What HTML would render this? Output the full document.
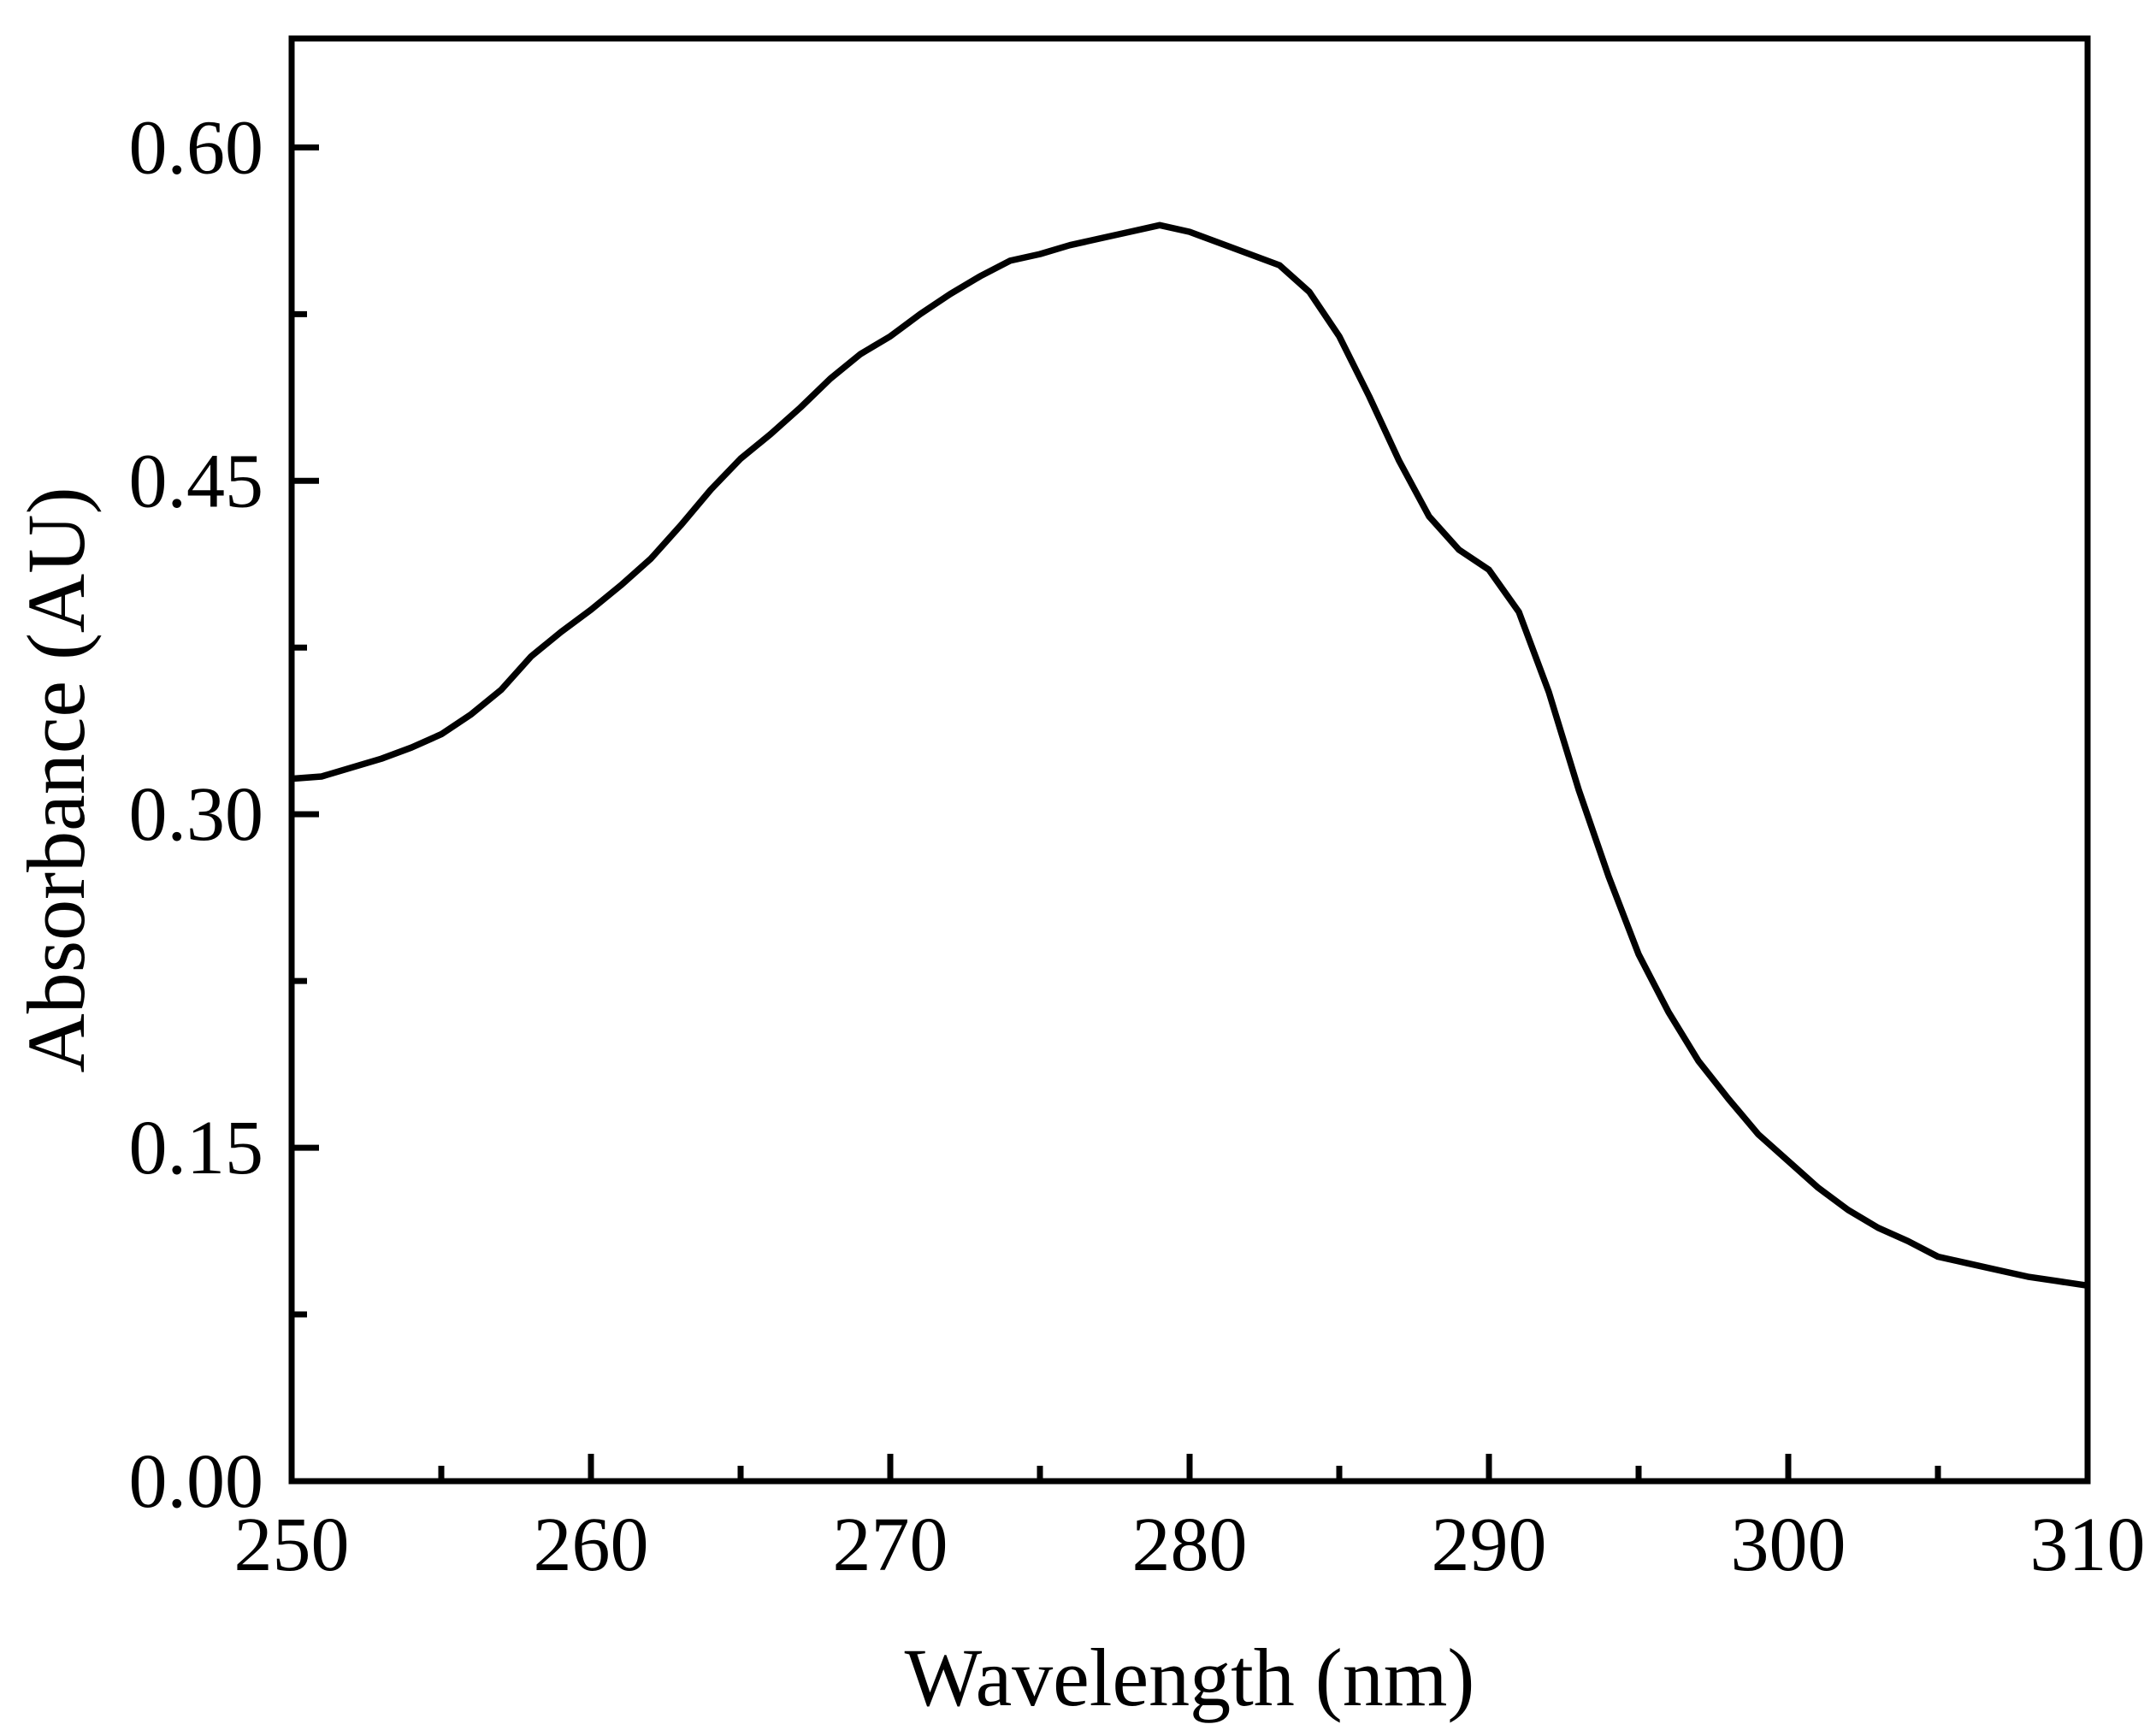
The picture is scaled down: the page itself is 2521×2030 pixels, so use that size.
<!DOCTYPE html>
<html><head><meta charset="utf-8"><style>
html,body{margin:0;padding:0;background:#fff;}
svg{display:block;}
text{font-family:"Liberation Serif",serif;fill:#000;}
</style></head><body>
<svg id="chart" width="2521" height="2030" viewBox="0 0 2521 2030" xmlns="http://www.w3.org/2000/svg">
<g id="ticks"></g>
<g id="labels"></g>
<path id="curve" fill="none" stroke="#000" stroke-width="7.5" stroke-linejoin="round"/>
<rect x="341" y="45" width="2100" height="1687" fill="none" stroke="#000" stroke-width="7"/>
<text x="1391" y="1994" font-size="96" text-anchor="middle">Wavelength (nm)</text>
<text x="0" y="0" font-size="96" text-anchor="middle" transform="translate(98,912) rotate(-90)">Absorbance (AU)</text>
</svg>
<script>
const wavelengths=[250,251,253,254,255,256,257,258,259,260,261,262,263,264,265,266,267,268,269,270,271,272,273,274,275,276,277,278,279,280,281,282,283,284,285,286,287,288,289,290,291,292,293,294,295,296,297,298,299,300,301,302,303,304,305,306,307,308,309,310];
const absorbance=[0.316,0.317,0.325,0.330,0.336,0.345,0.356,0.371,0.382,0.392,0.403,0.415,0.430,0.446,0.460,0.471,0.483,0.496,0.507,0.515,0.525,0.534,0.542,0.549,0.552,0.556,0.559,0.562,0.565,0.562,0.557,0.552,0.547,0.535,0.515,0.488,0.459,0.434,0.419,0.410,0.391,0.355,0.311,0.272,0.237,0.211,0.189,0.172,0.156,0.144,0.132,0.122,0.114,0.108,0.101,0.098,0.095,0.092,0.090,0.088];
const xTickLabels=["250","260","270","280","290","300","310"];
const yTickLabels=["0.00","0.15","0.30","0.45","0.60"];
const X0=341,X1=2441,Y0=1732,Y1=45,XMIN=250,XMAX=310,YMIN=0,YMAX=0.649;
function sx(v){return X0+(v-XMIN)/(XMAX-XMIN)*(X1-X0);}
function sy(v){return Y0-(v-YMIN)/(YMAX-YMIN)*(Y0-Y1);}
const NS="http://www.w3.org/2000/svg";
const ticks=document.getElementById('ticks'),labels=document.getElementById('labels');
function line(x1,y1,x2,y2,name){const l=document.createElementNS(NS,'line');
l.setAttribute('x1',x1);l.setAttribute('y1',y1);l.setAttribute('x2',x2);l.setAttribute('y2',y2);
l.setAttribute('stroke','#000');l.setAttribute('stroke-width','7');


ticks.appendChild(l);}
function txt(x,y,s,anchor,name){const t=document.createElementNS(NS,'text');
t.setAttribute('x',x);t.setAttribute('y',y);t.setAttribute('font-size','90');t.setAttribute('text-anchor',anchor);t.textContent=s;


labels.appendChild(t);}
xTickLabels.forEach(s=>{const v=parseFloat(s);const x=sx(v);line(x,Y0,x,Y0-32,'x-major-tick');txt(x,1836,s,'middle','x-tick-label');});
for(let v=255;v<310;v+=10){line(sx(v),Y0,sx(v),Y0-18,'x-minor-tick');}
yTickLabels.forEach(s=>{const v=parseFloat(s);const y=sy(v);line(X0,y,X0+32,y,'y-major-tick');txt(308,y+30,s,'end','y-tick-label');});
for(let v=0.075;v<0.649;v+=0.15){line(X0,sy(v),X0+18,sy(v),'y-minor-tick');}
document.getElementById('curve').setAttribute('d',wavelengths.map((w,i)=>(i?'L':'M')+sx(w).toFixed(1)+','+sy(absorbance[i]).toFixed(1)).join(' '));
</script>
</body></html>
